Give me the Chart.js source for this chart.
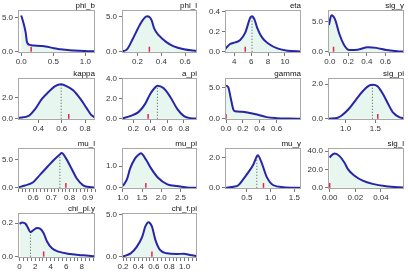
<!DOCTYPE html>
<html>
<head>
<meta charset="utf-8">
<script src="https://cdn.jsdelivr.net/npm/chart.js@4.4.1/dist/chart.umd.min.js"></script>
<style>
  html, body { margin: 0; padding: 0; background: #fff; width: 408px; height: 272px; overflow: hidden; position: relative; }
  canvas { position: absolute; }
</style>
</head>
<body>
<script>
'use strict';

// density curves (x, density)
const phiB_x = [0, 0.03, 0.07, 0.09, 0.13, 0.2, 0.3, 0.38, 0.51, 0.61, 0.72, 0.82, 0.98, 1.06, 1.15];
const phiB_y = [5.3, 4.4, 2.8, 1.4, 1.0, 0.92, 0.85, 0.78, 0.5, 0.38, 0.25, 0.18, 0.1, 0.08, 0.06];
const phiL_x = [0.07, 0.11, 0.16, 0.22, 0.25, 0.28, 0.30, 0.32, 0.34, 0.38, 0.44, 0.5, 0.59, 0.7];
const phiL_y = [0.05, 0.3, 1.8, 3.8, 4.6, 5.0, 4.9, 4.4, 3.3, 2.3, 1.4, 0.8, 0.35, 0.1];
const eta_x = [2.95, 3.5, 4.1, 4.7, 5.3, 5.9, 6.1, 6.4, 6.7, 7.3, 8.1, 9.1, 10.3, 11.9];
const eta_y = [0.03, 0.077, 0.093, 0.117, 0.19, 0.34, 0.353, 0.32, 0.24, 0.14, 0.077, 0.033, 0.01, 0.003];
const sigY_x = [-0.01, 0.017, 0.057, 0.1, 0.157, 0.21, 0.3, 0.41, 0.5, 0.61, 0.75, 0.8];
const sigY_y = [4.5, 6.1, 5.4, 3.1, 1.05, 0.3, 0.35, 0.75, 0.65, 0.3, 0.05, 0.02];
const kappa_x = [0.226, 0.32, 0.37, 0.43, 0.49, 0.54, 0.595, 0.645, 0.7, 0.76, 0.81, 0.85, 0.88];
const kappa_y = [0.07, 0.3, 0.9, 1.9, 2.6, 3.1, 3.3, 3.1, 2.7, 1.9, 1.07, 0.4, 0.15];
const aPi_x = [0.065, 0.16, 0.26, 0.34, 0.4, 0.46, 0.485, 0.56, 0.64, 0.72, 0.8, 0.88, 0.955];
const aPi_y = [0.02, 0.27, 0.67, 1.5, 2.5, 3.17, 3.33, 3.07, 2.17, 1.0, 0.27, 0.05, 0.01];
const gamma_x = [0, 0.03, 0.055, 0.087, 0.107, 0.19, 0.28, 0.38, 0.48, 0.6, 0.75, 0.89];
const gamma_y = [5.4, 5.0, 3.4, 1.5, 1.2, 1.14, 0.93, 0.65, 0.27, 0.1, 0.03, 0.01];
const sigPi_x = [0.72, 0.87, 0.94, 1.06, 1.17, 1.28, 1.40, 1.46, 1.54, 1.62, 1.71, 1.79, 1.9, 1.98];
const sigPi_y = [0.0, 0.06, 0.2, 0.59, 1.08, 1.56, 1.92, 1.96, 1.86, 1.47, 0.88, 0.39, 0.1, 0.03];
const muL_x = [0.517, 0.555, 0.6, 0.64, 0.68, 0.715, 0.745, 0.757, 0.78, 0.81, 0.84, 0.875, 0.92, 0.94];
const muL_y = [0.05, 0.4, 1.0, 2.4, 3.8, 5.0, 5.9, 6.2, 5.3, 3.5, 1.65, 0.43, 0.1, 0.05];
const muPi_x = [1.0, 1.11, 1.19, 1.32, 1.44, 1.47, 1.61, 1.74, 1.91, 2.16, 2.42, 2.67, 2.94];
const muPi_y = [0.08, 0.4, 0.89, 1.37, 1.58, 1.61, 1.29, 0.89, 0.48, 0.16, 0.08, 0.02, 0.0];
const muY_x = [0.06, 0.22, 0.32, 0.43, 0.53, 0.64, 0.71, 0.73, 0.81, 0.92, 1.06, 1.27, 1.64];
const muY_y = [0, 0.07, 0.17, 0.6, 1.03, 1.57, 2.1, 2.17, 1.68, 0.71, 0.17, 0.04, 0];
const sigL_x = [0, 0.0013, 0.004, 0.0077, 0.0116, 0.0142, 0.0194, 0.0258, 0.0335, 0.044, 0.054, 0.058];
const sigL_y = [33, 35.4, 37.5, 34.6, 27.4, 20.4, 13.2, 7.8, 4.3, 1.7, 0.6, 0.4];
const chiPlY_x = [0, 0.34, 0.77, 1.1, 1.4, 1.83, 2.26, 2.68, 3.1, 3.53, 4.17, 5.0, 6.5, 8.2, 9.7];
const chiPlY_y = [0.195, 0.204, 0.196, 0.17, 0.146, 0.16, 0.17, 0.166, 0.14, 0.09, 0.05, 0.03, 0.016, 0.008, 0.003];
const chiFPi_x = [0.2, 0.3, 0.38, 0.45, 0.49, 0.53, 0.575, 0.62, 0.68, 0.77, 0.9, 0.99, 1.07, 1.16];
const chiFPi_y = [0.03, 0.4, 1.2, 2.4, 3.6, 4.1, 3.6, 2.0, 0.8, 0.4, 0.32, 0.35, 0.2, 0.05];

// parameter names, true values (red mark) and dotted-line positions [x, density]
const names = ['phi_b', 'phi_l', 'eta', 'sig_y', 'kappa', 'a_pi', 'gamma', 'sig_pi',
  'mu_l', 'mu_pi', 'mu_y', 'sig_l', 'chi_pl.y', 'chi_f.pi'];
const truths = [0.155, 0.30, 5.3, 0.04, 0.66, 0.375, 0.0, 1.54, 0.78, 1.6, 0.85, 0.0, 3.1, 0.575];
const modes = [null, null, [6.1, 0.353], null, [0.595, 3.3], [0.485, 3.33], null, [1.45, 1.95],
  [0.747, 5.95], null, [0.71, 2.1], null, [1.4, 0.146], null];

// axis ranges, tick labels and minor tick steps
const xRanges = [[-0.05, 1.15], [0.07, 0.70], [2.9, 11.9], [-0.02, 0.8], [0.225, 0.885], [0.065, 0.955],
  [-0.012, 0.89], [0.705, 1.98], [0.517, 0.94], [0.98, 2.93], [0.04, 1.64], [-0.0013, 0.058],
  [-0.2, 9.7], [0.187, 1.16]];
const yMaxes = [6.1, 5.9, 0.415, 7.0, 3.9, 4.1, 6.6, 2.35, 7.1, 1.85, 2.65, 43.5, 0.26, 5.2];
const xTickLabels = [
  ['0.0', '0.5', '1.0'], ['0.2', '0.4', '0.6'], ['4', '6', '8', '10'], ['0.0', '0.2', '0.4', '0.6'],
  ['0.4', '0.6', '0.8'], ['0.2', '0.4', '0.6', '0.8'], ['0.0', '0.2', '0.4', '0.6'], ['1.0', '1.5'],
  ['0.6', '0.7', '0.8', '0.9'], ['1.0', '1.5', '2.0', '2.5'], ['0.5', '1.0', '1.5'], ['0.00', '0.02', '0.04'],
  ['0', '2', '4', '6', '8'], ['0.2', '0.4', '0.6', '0.8', '1.0']];
const xMinorSteps = [0, 0, 0, 0, 0, 0, 0, 0, 0.02, 0, 0, 0, 0.5, 0.05];
const yTickLabels = [
  ['0.0', '5.0'], ['0.0', '5.0'], ['0.0', '0.2', '0.4'], ['0.0', '5.0'], ['0.0', '2.0'], ['0.0', '2.0', '4.0'],
  ['0.0', '5.0'], ['0.0', '2.0'], ['0.0', '5.0'], ['0.0', '1.0'], ['0.0', '2.0'], ['0.0', '20.0', '40.0'],
  ['0.0', '0.2'], ['0.0', '5.0']];

const curvesX = [phiB_x, phiL_x, eta_x, sigY_x, kappa_x, aPi_x, gamma_x, sigPi_x, muL_x, muPi_x, muY_x, sigL_x, chiPlY_x, chiFPi_x];
const curvesY = [phiB_y, phiL_y, eta_y, sigY_y, kappa_y, aPi_y, gamma_y, sigPi_y, muL_y, muPi_y, muY_y, sigL_y, chiPlY_y, chiFPi_y];

// panel frames in the page
const colLeft = [18, 122, 225, 328];
const colRight = [95, 197, 301, 404];
const rowTop = [10, 78, 148, 213];
const rowBottom = [53, 120, 189, 258];
const AXIS_W = 26, AXIS_H = 14, PAD_TOP = 10, PAD_RIGHT = 6;
const FONT = { family: '"Liberation Sans", Arial, sans-serif', size: 8 };

const framePlugin = {
  id: 'frame',
  afterDraw(chart, args, opts) {
    const a = chart.chartArea;
    const ctx = chart.ctx;
    ctx.save();
    ctx.strokeStyle = '#a8a8a8';
    ctx.lineWidth = 1;
    ctx.strokeRect(Math.round(a.left) + 0.5, Math.round(a.top) + 0.5,
      Math.round(a.width) - 1, Math.round(a.height) - 1);
    ctx.fillStyle = '#111';
    ctx.font = '8px "Liberation Sans", Arial, sans-serif';
    ctx.textAlign = 'right';
    ctx.textBaseline = 'bottom';
    ctx.fillText(opts.title, a.right, a.top);
    ctx.restore();
  }
};

// major ticks with labels, plus unlabelled minor ticks where the picture has them
function buildXTicks(labels, step, range) {
  const major = labels.map(t => ({ value: parseFloat(t), label: t }));
  if (!step) return major;
  const out = [];
  const n = Math.floor((range[1] - range[0]) / step) + 1;
  const start = Math.ceil(range[0] / step) * step;
  for (let k = 0; k < n; k++) {
    const v = +(start + k * step).toFixed(6);
    if (v > range[1]) break;
    const m = major.find(t => Math.abs(t.value - v) < step / 10);
    out.push(m || { value: v, label: '' });
  }
  return out;
}

function makePanel(i) {
  const col = i % 4;
  const row = Math.floor(i / 4);
  const w = colRight[col] - colLeft[col];
  const h = rowBottom[row] - rowTop[row];

  const canvas = document.createElement('canvas');
  canvas.width = w + AXIS_W + PAD_RIGHT;
  canvas.height = h + PAD_TOP + AXIS_H;
  canvas.style.left = (colLeft[col] - AXIS_W) + 'px';
  canvas.style.top = (rowTop[row] - PAD_TOP) + 'px';
  document.body.appendChild(canvas);

  const yMax = yMaxes[i];
  const xs = curvesX[i];
  const ys = curvesY[i];
  const datasets = [{
    data: xs.map((x, k) => ({ x: x, y: ys[k] })),
    borderColor: '#2626a6',
    borderWidth: 2,
    backgroundColor: '#e7f6ef',
    fill: 'origin',
    cubicInterpolationMode: 'monotone',
    pointRadius: 0
  }];
  if (modes[i]) {
    datasets.push({
      data: [{ x: modes[i][0], y: 0 }, { x: modes[i][0], y: modes[i][1] }],
      borderColor: '#555',
      borderWidth: 1,
      borderDash: [1, 2],
      pointRadius: 0,
      fill: false
    });
  }
  datasets.push({
    data: [{ x: truths[i], y: 0 }, { x: truths[i], y: 0.12 * yMax }],
    borderColor: '#e3264f',
    borderWidth: 1.5,
    pointRadius: 0,
    fill: false
  });

  const xt = buildXTicks(xTickLabels[i], xMinorSteps[i], xRanges[i]);
  const yt = yTickLabels[i];

  new Chart(canvas, {
    type: 'line',
    data: { datasets: datasets },
    options: {
      responsive: false,
      animation: false,
      events: [],
      layout: { padding: { top: PAD_TOP, right: PAD_RIGHT, left: 0, bottom: 0 } },
      plugins: {
        legend: { display: false },
        tooltip: { enabled: false },
        filler: { drawTime: 'beforeDatasetsDraw' },
        frame: { title: names[i] }
      },
      scales: {
        x: {
          type: 'linear',
          min: xRanges[i][0],
          max: xRanges[i][1],
          afterBuildTicks: s => { s.ticks = xt.map(t => ({ value: t.value })); },
          afterFit: s => { s.height = AXIS_H; },
          ticks: { callback: (v, k) => xt[k].label, font: FONT, color: '#333', padding: 1, maxRotation: 0, autoSkip: false },
          grid: { drawOnChartArea: false, drawTicks: true, tickLength: 3, color: '#777' },
          border: { display: false }
        },
        y: {
          min: -0.03 * yMax,
          max: yMax,
          afterBuildTicks: s => { s.ticks = yt.map(t => ({ value: parseFloat(t) })); },
          afterFit: s => { s.width = AXIS_W; },
          ticks: { callback: (v, k) => yt[k], font: FONT, color: '#333', padding: 2, autoSkip: false },
          grid: { drawOnChartArea: false, drawTicks: true, tickLength: 3, color: '#777' },
          border: { display: false }
        }
      }
    },
    plugins: [framePlugin]
  });
}

document.addEventListener('DOMContentLoaded', () => {
  for (let i = 0; i < names.length; i++) {
    makePanel(i);
  }
});
</script>
</body>
</html>
